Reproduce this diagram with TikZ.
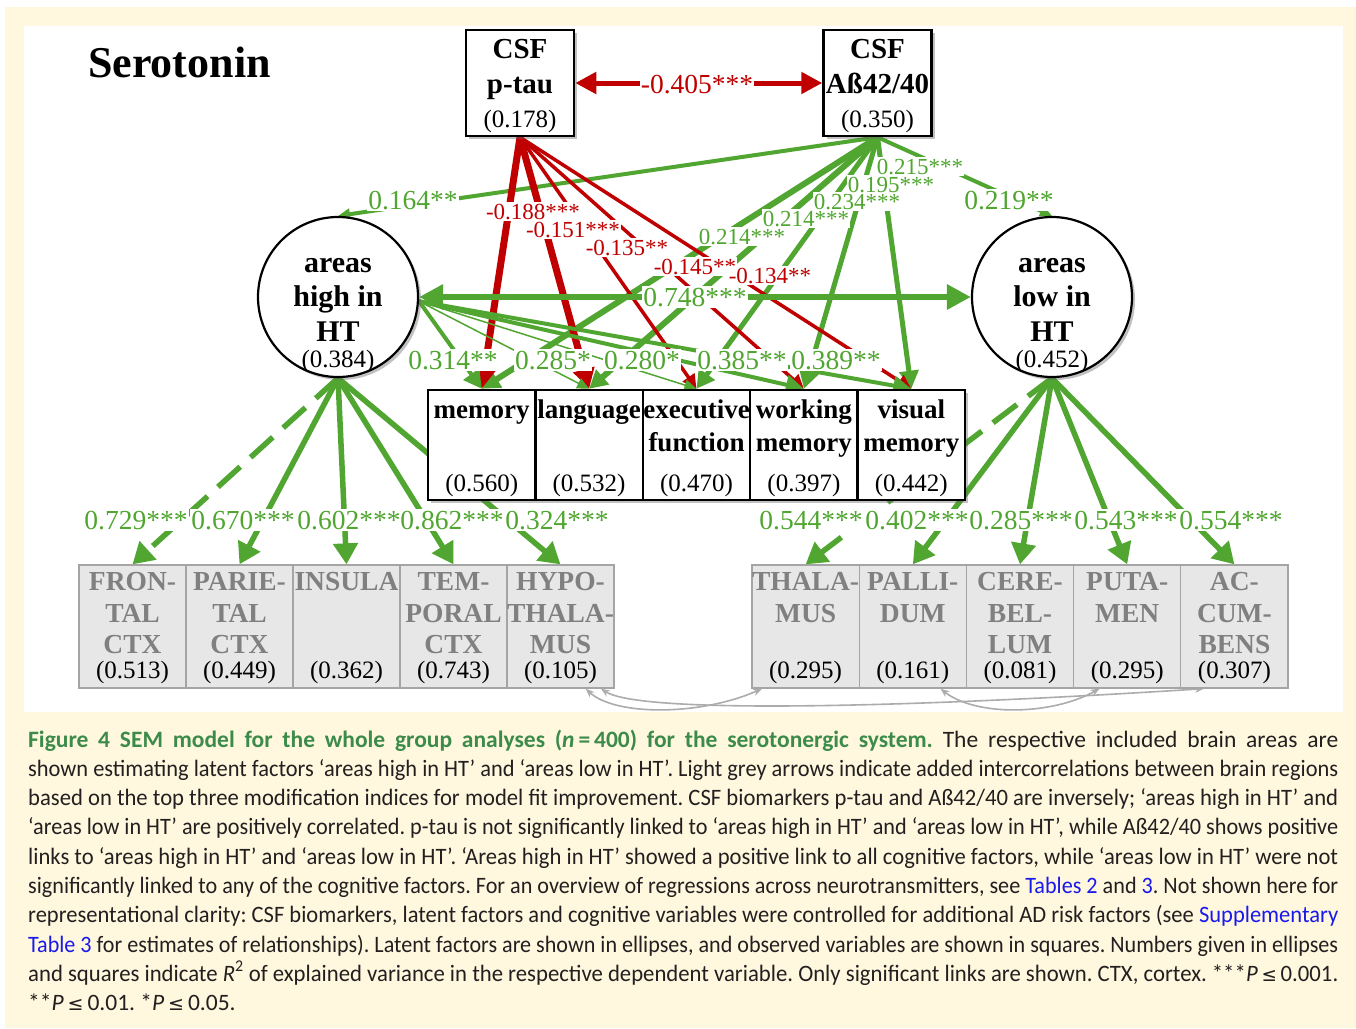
\documentclass[tikz,border=0pt]{standalone}
\usepackage{fontspec}
\usepackage{graphicx}
\setmainfont{Liberation Serif}
\newfontfamily\capfont{Carlito}
\newfontfamily\symfont{DejaVu Sans}
\usetikzlibrary{arrows.meta,shadows}

\definecolor{cream}{RGB}{255,248,222}
\definecolor{sgreen}{RGB}{80,166,48}
\definecolor{sred}{RGB}{192,0,0}
\definecolor{boxgray}{RGB}{231,231,231}
\definecolor{boxedge}{RGB}{165,165,165}
\definecolor{areatext}{RGB}{128,128,128}
\definecolor{covgray}{RGB}{172,172,172}
\definecolor{capgreen}{RGB}{60,139,74}
\definecolor{capblue}{RGB}{25,25,235}
\definecolor{captext}{RGB}{35,31,32}

\pgfdeclarelayer{bg}\pgfdeclarelayer{edges}\pgfdeclarelayer{top}
\pgfsetlayers{bg,edges,main,top}

\frenchspacing
\newcommand\setfs[1]{\fontsize{#1pt}{#1pt}\selectfont}
\newcommand\lesym{{\symfont\setfs{19}≤}}
\newsavebox\capbox
\newlength\capw
\setlength\capw{1310pt}
% one justified caption line; squeezed horizontally if it is too long
\newcommand\capline[1]{\sbox\capbox{#1}%
  \ifdim\wd\capbox>\capw\resizebox{\capw}{\height}{\usebox\capbox}%
  \else\makebox[\capw][s]{#1}\fi}

\tikzset{
  every node/.style={inner sep=0pt},
  shad/.style={drop shadow={shadow xshift=3pt,shadow yshift=-3pt,opacity=0.4,fill=black!60}},
  csfbox/.style={draw=black,line width=2.5pt,fill=white,minimum width=108pt,minimum height=106pt,shad},
  latent/.style={circle,draw=black,line width=2.2pt,fill=white,minimum size=160pt,shad},
  cogbox/.style={draw=black,line width=2.5pt,fill=white,minimum width=107.4pt,minimum height=110pt,shad},
  areabox/.style={draw=boxedge,line width=1.3pt,fill=boxgray,minimum width=107pt,minimum height=123pt},
  btxt/.style={anchor=base,font=\bfseries\setfs{29}},
  ctxt/.style={anchor=base,font=\bfseries\setfs{27}},
  atxt/.style={anchor=base,text=areatext,font=\bfseries\setfs{27.5}},
  vtxt/.style={anchor=base,font=\setfs{25}},
  glab/.style={anchor=base,fill=white,inner xsep=1pt,inner ysep=1.5pt,text=sgreen,font=\setfs{27.5}},
  glabs/.style={glab,font=\setfs{23}},
  rlab/.style={glab,text=sred,font=\setfs{23}},
  rlabb/.style={glab,text=sred},
  garr/.style={draw=sgreen,-{Triangle[length=18pt,width=19pt]}},
  garrs/.style={draw=sgreen,-{Triangle[length=12pt,width=11pt]}},
  rarr/.style={draw=sred,-{Triangle[length=20pt,width=21pt]}},
  rarrs/.style={draw=sred,-{Triangle[length=14pt,width=14pt]}},
  gload/.style={draw=sgreen,line width=5.5pt,-{Triangle[length=21pt,width=24pt]}},
  gloaddash/.style={gload,dash pattern=on 30pt off 14pt},
  gboth/.style={draw=sgreen,line width=6pt,{Triangle[length=24pt,width=24pt]}-{Triangle[length=24pt,width=24pt]}},
  rboth/.style={draw=sred,line width=5pt,{Triangle[length=21pt,width=21pt]}-{Triangle[length=21pt,width=21pt]}},
  cov/.style={draw=covgray,line width=1.6pt,{Stealth[length=9pt,width=7pt]}-{Stealth[length=9pt,width=7pt]}},
  capl/.style={anchor=base west,text=captext,font=\capfont\setfs{23.5}}
}

\begin{document}
\begin{tikzpicture}[x=1pt,y=-1pt]
\useasboundingbox (0,0) rectangle (1356,1028);

% page background and white figure panel
\begin{pgfonlayer}{bg}
\fill[cream] (0,0) rectangle (1356,1028);
\fill[white] (0,0) rectangle (1356,7);
\fill[white] (0,0) rectangle (5,1028);
\fill[white] (24,26) rectangle (1343,712);
\end{pgfonlayer}

\node[anchor=base west,font=\bfseries\setfs{44}] (title) at (88,77) {Serotonin};

% CSF biomarkers
\node[csfbox] (ptau) at (520,83) {};
\node[btxt] (ptau1) at (520,58) {CSF};
\node[btxt] (ptau2) at (520,93) {p-tau};
\node[vtxt] (ptau3) at (520,127) {(0.178)};
\node[csfbox] (ab) at (877.5,83) {};
\node[btxt] (ab1) at (877.5,58) {CSF};
\node[btxt] (ab2) at (877.5,93) {Aß42/40};
\node[vtxt] (ab3) at (877.5,127) {(0.350)};

% latent factors
\node[latent] (hi) at (338,297) {};
\node[btxt,font=\bfseries\setfs{30}] (hi1) at (338,272) {areas};
\node[btxt,font=\bfseries\setfs{30}] (hi2) at (338,306) {high in};
\node[btxt,font=\bfseries\setfs{30}] (hi3) at (338,341) {HT};
\node[vtxt] (hi4) at (338,367) {(0.384)};
\node[latent] (lo) at (1052,297) {};
\node[btxt,font=\bfseries\setfs{30}] (lo1) at (1052,272) {areas};
\node[btxt,font=\bfseries\setfs{30}] (lo2) at (1052,306) {low in};
\node[btxt,font=\bfseries\setfs{30}] (lo3) at (1052,341) {HT};
\node[vtxt] (lo4) at (1052,367) {(0.452)};

% cognitive factors
\node[cogbox] (mem) at (481.7,445) {};
\node[ctxt] (mem1) at (481.7,418) {memory};
\node[vtxt] (mem2) at (481.7,491) {(0.560)};
\node[cogbox] (lang) at (589.1,445) {};
\node[ctxt] (lang1) at (589.1,418) {language};
\node[vtxt] (lang2) at (589.1,491) {(0.532)};
\node[cogbox] (exec) at (696.5,445) {};
\node[ctxt] (exec1) at (696.5,418) {executive};
\node[ctxt] (exec2) at (696.5,451) {function};
\node[vtxt] (exec3) at (696.5,491) {(0.470)};
\node[cogbox] (work) at (803.9,445) {};
\node[ctxt] (work1) at (803.9,418) {working};
\node[ctxt] (work2) at (803.9,451) {memory};
\node[vtxt] (work3) at (803.9,491) {(0.397)};
\node[cogbox] (vis) at (911.3,445) {};
\node[ctxt] (vis1) at (911.3,418) {visual};
\node[ctxt] (vis2) at (911.3,451) {memory};
\node[vtxt] (vis3) at (911.3,491) {(0.442)};

% brain areas, high in HT
\node[areabox] (fron) at (132.5,626.5) {};
\node[atxt] (fron1) at (132.5,590) {FRON-};
\node[atxt] (fron2) at (132.5,622) {TAL};
\node[atxt] (fron3) at (132.5,653) {CTX};
\node[vtxt] (fron4) at (132.5,678) {(0.513)};
\node[areabox] (pari) at (239.5,626.5) {};
\node[atxt] (pari1) at (239.5,590) {PARIE-};
\node[atxt] (pari2) at (239.5,622) {TAL};
\node[atxt] (pari3) at (239.5,653) {CTX};
\node[vtxt] (pari4) at (239.5,678) {(0.449)};
\node[areabox] (insu) at (346.5,626.5) {};
\node[atxt] (insu1) at (346.5,590) {INSULA};
\node[vtxt] (insu2) at (346.5,678) {(0.362)};
\node[areabox] (temp) at (453.5,626.5) {};
\node[atxt] (temp1) at (453.5,590) {TEM-};
\node[atxt] (temp2) at (453.5,622) {PORAL};
\node[atxt] (temp3) at (453.5,653) {CTX};
\node[vtxt] (temp4) at (453.5,678) {(0.743)};
\node[areabox] (hypo) at (560.5,626.5) {};
\node[atxt] (hypo1) at (560.5,590) {HYPO-};
\node[atxt] (hypo2) at (560.5,622) {THALA-};
\node[atxt] (hypo3) at (560.5,653) {MUS};
\node[vtxt] (hypo4) at (560.5,678) {(0.105)};

% brain areas, low in HT
\node[areabox,minimum width=107.2pt] (thal) at (805.6,626.5) {};
\node[atxt] (thal1) at (805.6,590) {THALA-};
\node[atxt] (thal2) at (805.6,622) {MUS};
\node[vtxt] (thal3) at (805.6,678) {(0.295)};
\node[areabox,minimum width=107.2pt] (pall) at (912.8,626.5) {};
\node[atxt] (pall1) at (912.8,590) {PALLI-};
\node[atxt] (pall2) at (912.8,622) {DUM};
\node[vtxt] (pall3) at (912.8,678) {(0.161)};
\node[areabox,minimum width=107.2pt] (cere) at (1020,626.5) {};
\node[atxt] (cere1) at (1020,590) {CERE-};
\node[atxt] (cere2) at (1020,622) {BEL-};
\node[atxt] (cere3) at (1020,653) {LUM};
\node[vtxt] (cere4) at (1020,678) {(0.081)};
\node[areabox,minimum width=107.2pt] (put) at (1127.2,626.5) {};
\node[atxt] (put1) at (1127.2,590) {PUTA-};
\node[atxt] (put2) at (1127.2,622) {MEN};
\node[vtxt] (put3) at (1127.2,678) {(0.295)};
\node[areabox,minimum width=107.2pt] (acc) at (1234.4,626.5) {};
\node[atxt] (acc1) at (1234.4,590) {AC-};
\node[atxt] (acc2) at (1234.4,622) {CUM-};
\node[atxt] (acc3) at (1234.4,653) {BENS};
\node[vtxt] (acc4) at (1234.4,678) {(0.307)};

% connectors, below the boxes
\begin{pgfonlayer}{edges}
% biomarker correlation
\draw[rboth] (ptau.east) -- (ab.west);
% amyloid to latent factors
\draw[garrs,line width=4pt] (ab.south) -- (hi.north);
\draw[garrs,line width=4pt] (ab.south) -- (lo.north);
% amyloid to cognition
\draw[garr,line width=6pt] (ab.south) -- (mem.north);
\draw[garr,line width=6pt] (ab.south) -- (lang.north);
\draw[garr,line width=5pt] (ab.south) -- (exec.north);
\draw[garr,line width=5pt] (ab.south) -- (work.north);
\draw[garr,line width=5pt] (ab.south) -- (vis.north);
% p-tau to cognition
\draw[rarr,line width=7pt] (ptau.south) -- (mem.north);
\draw[rarr,line width=7pt] (ptau.south) -- (lang.north);
\draw[rarrs,line width=3.5pt] (ptau.south) -- (exec.north);
\draw[rarrs,line width=3.5pt] (ptau.south) -- (work.north);
\draw[rarrs,line width=3.5pt] (ptau.south) -- (vis.north);
% latent correlation
\draw[gboth] (hi.east) -- (lo.west);
% areas high in HT to cognition
\draw[garr,line width=4pt] (hi.-3) -- (mem.north);
\draw[garrs,line width=1.5pt] (hi.-3) -- (lang.north);
\draw[garrs,line width=1.5pt] (hi.-3) -- (exec.north);
\draw[garr,line width=4pt] (hi.-3) -- (work.north);
\draw[garr,line width=4pt] (hi.-3) -- (vis.north);
% loadings
\draw[gloaddash] (hi.south) -- (fron.north);
\draw[gload] (hi.south) -- (pari.north);
\draw[gload] (hi.south) -- (insu.north);
\draw[gload] (hi.south) -- (temp.north);
\draw[gload] (hi.south) -- (hypo.north);
\draw[gloaddash] (lo.south) -- (thal.north);
\draw[gload] (lo.south) -- (pall.north);
\draw[gload] (lo.south) -- (cere.north);
\draw[gload] (lo.south) -- (put.north);
\draw[gload] (lo.south) -- (acc.north);
% residual intercorrelations between brain regions
\draw[cov] (hypo.-68) .. controls (615,716) and (700,716) .. (thal.-125);
\draw[cov] (hypo.-57) .. controls (640,714) and (900,708) .. (acc.-116);
\draw[cov] (pall.-66) .. controls (975,716) and (1050,716) .. (put.-114);
\end{pgfonlayer}

% path coefficients
\begin{pgfonlayer}{top}
\node[rlabb] (l405) at (697,93) {-0.405***};
\node[glab] (l164) at (413,209) {0.164**};
\node[glab] (l219) at (1009,209) {0.219**};
\node[glab] (l748) at (695,306) {0.748***};
\node[rlab] (l188) at (533,219) {-0.188***};
\node[rlab] (l151) at (573,237) {-0.151***};
\node[rlab] (l135) at (627,255) {-0.135**};
\node[rlab] (l145) at (695,274) {-0.145**};
\node[rlab] (l134) at (770,283) {-0.134**};
\node[glabs] (la1) at (742,244) {0.214***};
\node[glabs] (la2) at (806,226) {0.214***};
\node[glabs] (la3) at (857,209) {0.234***};
\node[glabs] (la4) at (891,192) {0.195***};
\node[glabs] (la5) at (920,174) {0.215***};
\node[glab] (lh1) at (453,369) {0.314**};
\node[glab] (lh2) at (553,369) {0.285*};
\node[glab] (lh3) at (642,369) {0.280*};
\node[glab] (lh4) at (742,369) {0.385**};
\node[glab] (lh5) at (836,369) {0.389**};
\node[glab] (ld1) at (136,529) {0.729***};
\node[glab] (ld2) at (243,529) {0.670***};
\node[glab] (ld3) at (349,529) {0.602***};
\node[glab] (ld4) at (452,529) {0.862***};
\node[glab] (ld5) at (557,529) {0.324***};
\node[glab] (ld6) at (811,529) {0.544***};
\node[glab] (ld7) at (917,529) {0.402***};
\node[glab] (ld8) at (1021,529) {0.285***};
\node[glab] (ld9) at (1126,529) {0.543***};
\node[glab] (ld10) at (1231,529) {0.554***};
\end{pgfonlayer}

% caption
\node[capl] (cap1) at (28,747) {\capline{{\color{capgreen}\bfseries Figure 4 SEM model for the whole group analyses (\textit{n}\,=\,400) for the serotonergic system.} The respective included brain areas are}};
\node[capl] (cap2) at (28,776) {\capline{shown estimating latent factors ‘areas high in HT’ and ‘areas low in HT’. Light grey arrows indicate added intercorrelations between brain regions}};
\node[capl] (cap3) at (28,805) {\capline{based on the top three modification indices for model fit improvement. CSF biomarkers p-tau and Aß42/40 are inversely; ‘areas high in HT’ and}};
\node[capl] (cap4) at (28,834) {\capline{‘areas low in HT’ are positively correlated. p-tau is not significantly linked to ‘areas high in HT’ and ‘areas low in HT’, while Aß42/40 shows positive}};
\node[capl] (cap5) at (28,864) {\capline{links to ‘areas high in HT’ and ‘areas low in HT’. ‘Areas high in HT’ showed a positive link to all cognitive factors, while ‘areas low in HT’ were not}};
\node[capl] (cap6) at (28,893) {\capline{significantly linked to any of the cognitive factors. For an overview of regressions across neurotransmitters, see {\color{capblue}Tables 2} and {\color{capblue}3}. Not shown here for}};
\node[capl] (cap7) at (28,922) {\capline{representational clarity: CSF biomarkers, latent factors and cognitive variables were controlled for additional AD risk factors (see {\color{capblue}Supplementary}}};
\node[capl] (cap8) at (28,952) {\capline{{\color{capblue}Table 3} for estimates of relationships). Latent factors are shown in ellipses, and observed variables are shown in squares. Numbers given in ellipses}};
\node[capl] (cap9) at (28,981) {\capline{and squares indicate \textit{R}\textsuperscript{2} of explained variance in the respective dependent variable. Only significant links are shown. CTX, cortex. ***\textit{P}\,\lesym\,0.001.}};
\node[capl] (cap10) at (28,1010) {**\textit{P}\,\lesym\,0.01. *\textit{P}\,\lesym\,0.05.};
\end{tikzpicture}
\end{document}
